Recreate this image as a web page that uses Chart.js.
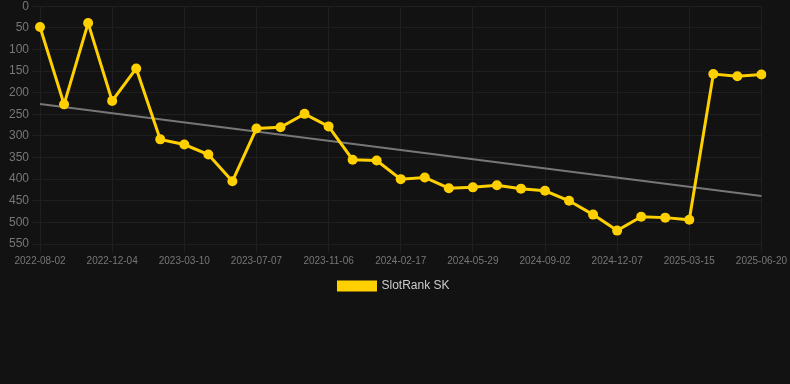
<!DOCTYPE html>
<html>
<head>
<meta charset="utf-8">
<script src="https://cdn.jsdelivr.net/npm/chart.js@4/dist/chart.umd.min.js"></script>
<style>
  html, body { margin: 0; padding: 0; background: #121212; overflow: hidden; }
  #wrap { width: 790px; height: 306px; position: relative; margin-top: -4px; }
</style>
</head>
<body>
<div id="wrap"><canvas id="chart"></canvas></div>
<script>
// dates of each rank snapshot
const dates = [
  "2022-08-02", "2022-09-12", "2022-10-23", "2022-12-04", "2023-01-04", "2023-02-06",
  "2023-03-10", "2023-04-19", "2023-05-29", "2023-07-07", "2023-08-16", "2023-09-26",
  "2023-11-06", "2023-12-11", "2024-01-14", "2024-02-17", "2024-03-24", "2024-04-26",
  "2024-05-29", "2024-07-02", "2024-08-01", "2024-09-02", "2024-10-06", "2024-11-06",
  "2024-12-07", "2025-01-10", "2025-02-12", "2025-03-15", "2025-04-18", "2025-05-19",
  "2025-06-20"
];

// SlotRank SK position
const rankSK = [
  48, 227, 39, 219, 144, 308, 320, 343, 405, 283, 280, 249, 278, 355, 357, 400,
  396, 421, 419, 414, 422, 427, 450, 482, 519, 487, 489, 494, 157, 162, 158
];

// trend line ends (first and last date)
const trendStart = 226;
const trendEnd = 439;

const trend = dates.map(function(d, i) {
  if (i === 0) return trendStart;
  if (i === dates.length - 1) return trendEnd;
  return null;
});

const yellow = "#FFD000";
const gridCol = "#1f1f1f";

new Chart(document.getElementById("chart"), {
  type: "line",
  data: {
    labels: dates,
    datasets: [
      {
        label: "SlotRank SK",
        data: rankSK,
        borderColor: yellow,
        backgroundColor: yellow,
        borderWidth: 3,
        pointRadius: 5,
        pointBorderWidth: 0,
        pointBackgroundColor: yellow,
        pointBorderColor: yellow,
        tension: 0
      },
      {
        label: "trend",
        data: trend,
        borderColor: "#777777",
        borderWidth: 2,
        pointRadius: 0,
        spanGaps: true,
        fill: false
      }
    ]
  },
  options: {
    responsive: true,
    maintainAspectRatio: false,
    animation: false,
    layout: { padding: { top: 2, right: 8, left: 6 } },
    scales: {
      x: {
        grid: {
          color: function(c) { return c.index % 3 === 0 ? gridCol : "rgba(0,0,0,0)"; },
          tickColor: function(c) { return c.index % 3 === 0 ? gridCol : "rgba(0,0,0,0)"; }
        },
        border: { color: gridCol },
        ticks: {
          color: "#777777",
          font: { size: 10 },
          maxRotation: 0,
          autoSkip: false,
          callback: function(v, i) { return i % 3 === 0 ? dates[i] : ""; }
        }
      },
      y: {
        reverse: true,
        min: 0,
        max: 550,
        grid: { color: gridCol, tickColor: gridCol },
        border: { color: gridCol },
        ticks: { color: "#777777", font: { size: 12 }, stepSize: 50 }
      }
    },
    plugins: {
      legend: {
        position: "bottom",
        labels: {
          color: "#cccccc",
          font: { size: 12 },
          boxWidth: 37,
          boxHeight: 8,
          filter: function(item) { return item.text !== "trend"; }
        }
      },
      tooltip: { enabled: false }
    }
  }
});
</script>
</body>
</html>
